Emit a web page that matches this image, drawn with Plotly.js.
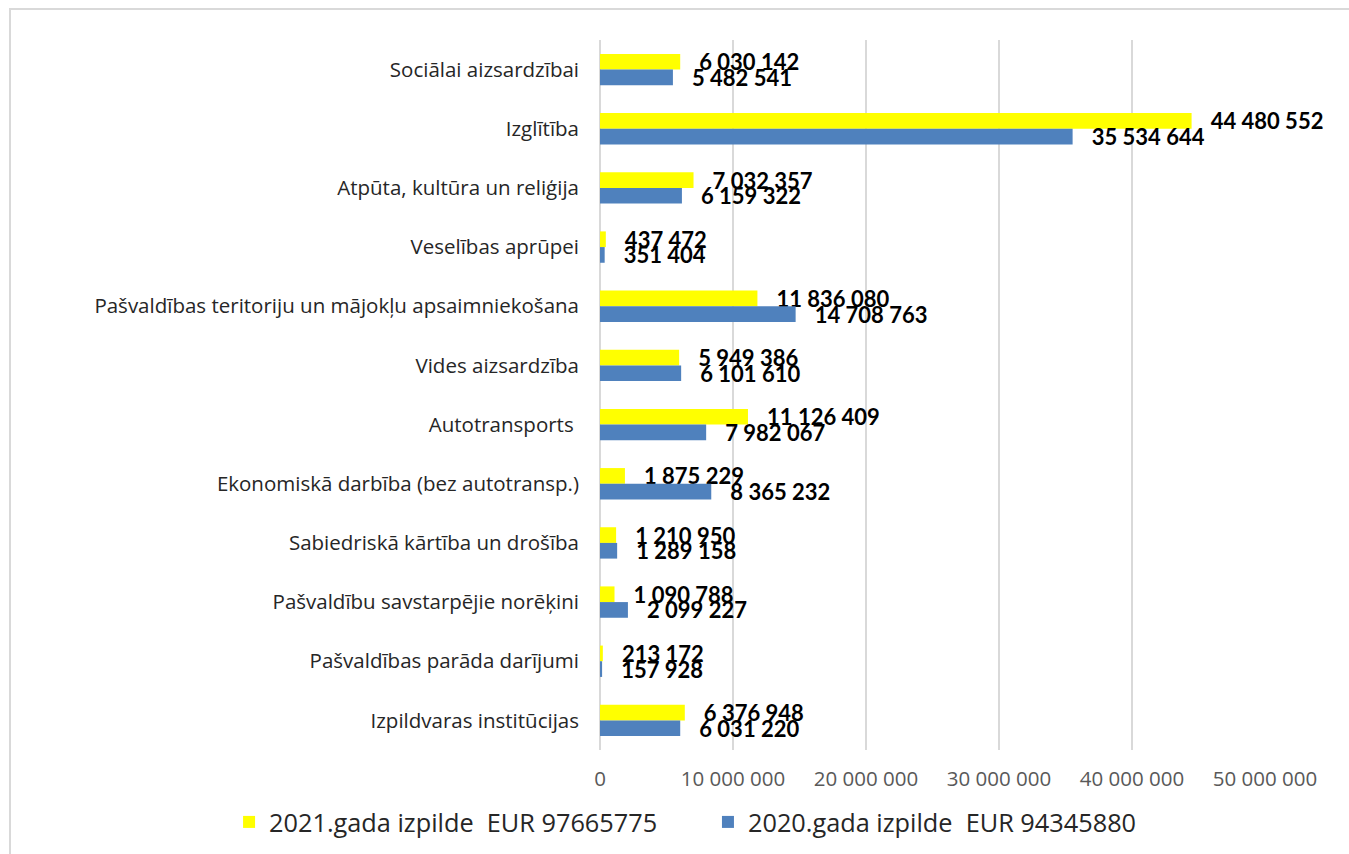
<!DOCTYPE html>
<html>
<head>
<meta charset="utf-8">
<script src="https://cdn.plot.ly/plotly-3.0.1.min.js"></script>
<style>
  html, body { margin: 0; padding: 0; background: #ffffff; }
  #wrap { position: relative; width: 1349px; height: 854px; overflow: hidden; }
  #frame { position: absolute; left: 9px; top: 8px; width: 1400px; height: 900px;
           border-top: 2px solid #d9d9d9; border-left: 2px solid #d9d9d9; box-sizing: border-box; pointer-events: none; }
  #chart { position: absolute; left: 0; top: 0; width: 1349px; height: 854px; }
</style>
</head>
<body>
<div id="wrap">
  <div id="chart"></div>
  <div id="frame"></div>
</div>
<script>
const categories = [
  "Sociālai aizsardzībai",
  "Izglītība",
  "Atpūta, kultūra un reliģija",
  "Veselības aprūpei",
  "Pašvaldības teritoriju un mājokļu apsaimniekošana",
  "Vides aizsardzība",
  "Autotransports ",
  "Ekonomiskā darbība (bez autotransp.)",
  "Sabiedriskā kārtība un drošība",
  "Pašvaldību savstarpējie norēķini",
  "Pašvaldības parāda darījumi",
  "Izpildvaras institūcijas"
];
const values2021 = [6030142, 44480552, 7032357, 437472, 11836080, 5949386, 11126409, 1875229, 1210950, 1090788, 213172, 6376948];
const values2020 = [5482541, 35534644, 6159322, 351404, 14708763, 6101610, 7982067, 8365232, 1289158, 2099227, 157928, 6031220];
const seriesNames = ["2021.gada izpilde\u00a0\u00a0EUR 97665775", "2020.gada izpilde\u00a0\u00a0EUR 94345880"];
const xTickVals = [0, 10000000, 20000000, 30000000, 40000000, 50000000];

const labelFont = { family: "Lato, 'Open Sans', sans-serif", size: 22, color: "#000000", weight: 700 };

const traces = [
  {
    type: "bar", orientation: "h", name: seriesNames[0], legend: "legend",
    y: categories, x: values2021,
    marker: { color: "#FFFF00" },
    texttemplate: "\u00a0\u00a0\u00a0%{x:,}", textposition: "outside",
    textfont: labelFont, constraintext: "none", cliponaxis: false,
    hoverinfo: "x+y"
  },
  {
    type: "bar", orientation: "h", name: seriesNames[1], legend: "legend2",
    y: categories, x: values2020,
    marker: { color: "#4F81BD" },
    texttemplate: "\u00a0\u00a0\u00a0%{x:,}", textposition: "outside",
    textfont: labelFont, constraintext: "none", cliponaxis: false,
    hoverinfo: "x+y"
  }
];

const legendFont = { family: "'Open Sans', sans-serif", size: 25.3, color: "#262626" };

const layout = {
  width: 1349, height: 854,
  margin: { l: 600, r: 84, t: 40, b: 104, autoexpand: false },
  paper_bgcolor: "rgba(0,0,0,0)", plot_bgcolor: "rgba(0,0,0,0)",
  separators: ", ",
  barmode: "group", bargap: 0.47, bargroupgap: 0,
  font: { family: "'Open Sans', sans-serif" },
  xaxis: {
    range: [0, 50000000], tickvals: xTickVals, tickformat: ",",
    showgrid: true, gridcolor: "#d9d9d9", gridwidth: 1.5,
    zeroline: true, zerolinecolor: "#d9d9d9", zerolinewidth: 1.5,
    showline: false, ticks: "", ticklabelstandoff: 14,
    tickfont: { family: "'Open Sans', sans-serif", size: 20.5, color: "#595959" },
    fixedrange: true
  },
  yaxis: {
    type: "category", autorange: "reversed",
    showgrid: false, zeroline: false, showline: false, ticks: "",
    ticklabelstandoff: 20,
    tickfont: { family: "'Open Sans', sans-serif", size: 20.5, color: "#262626" },
    fixedrange: true
  },
  showlegend: true,
  legend: {
    orientation: "h", xref: "container", yref: "container",
    x: 0.1698, xanchor: "left", y: 0.0375, yanchor: "middle",
    font: legendFont, bgcolor: "rgba(0,0,0,0)"
  },
  legend2: {
    orientation: "h", xref: "container", yref: "container",
    x: 0.5248, xanchor: "left", y: 0.0375, yanchor: "middle",
    font: legendFont, bgcolor: "rgba(0,0,0,0)"
  }
};

Plotly.newPlot("chart", traces, layout, { displayModeBar: false, staticPlot: true });
</script>
</body>
</html>
